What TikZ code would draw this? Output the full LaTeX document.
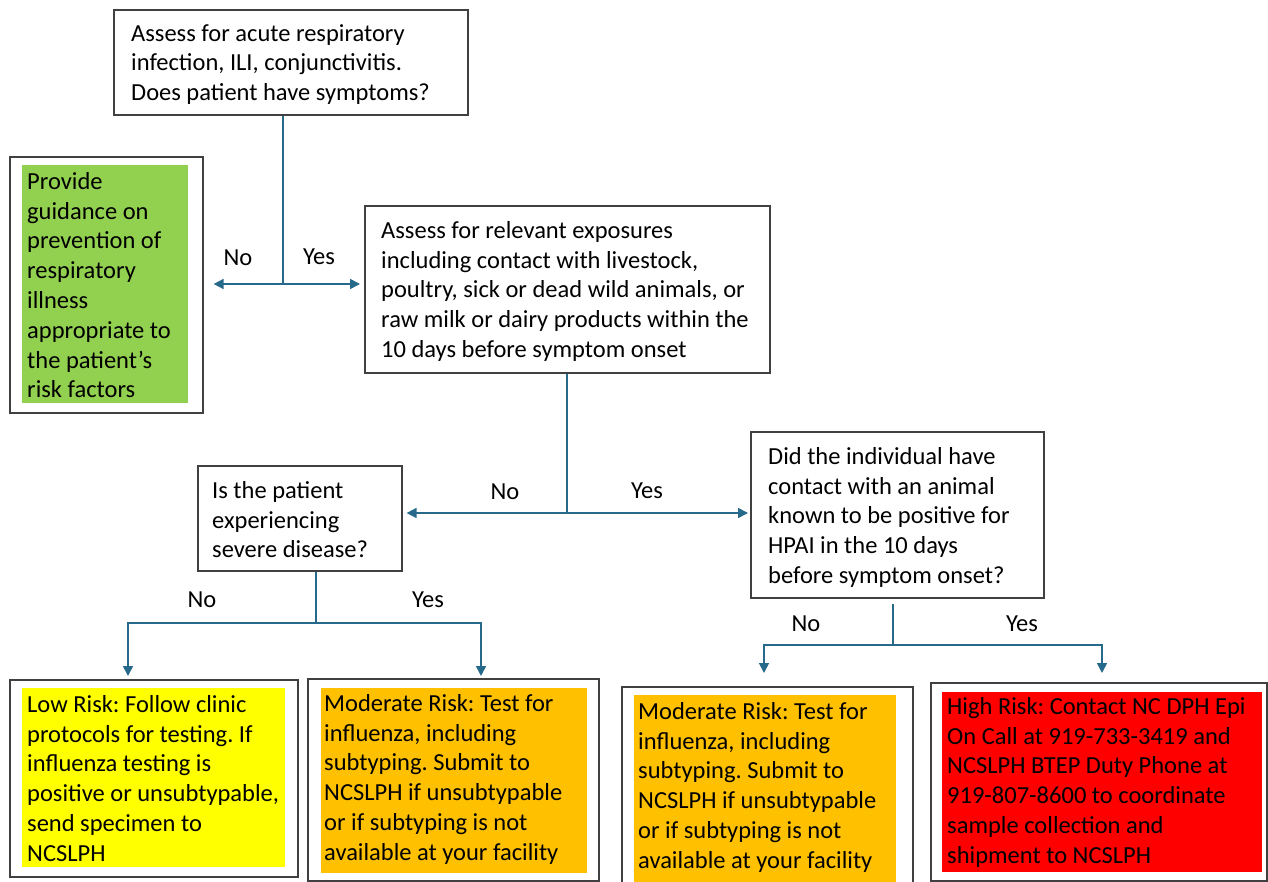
\documentclass[tikz,border=0pt]{standalone}
\usepackage{fontspec}
\setmainfont{Carlito}
\frenchspacing
\usepackage{tikz}
\usetikzlibrary{arrows.meta,calc,positioning}
\definecolor{grisBorde}{RGB}{64, 64, 64}
\definecolor{azulFlecha}{RGB}{38, 105, 138}
\definecolor{verdeGuia}{RGB}{146, 208, 80}
\definecolor{amarilloBajo}{RGB}{255, 255, 0}
\definecolor{naranjaMedio}{RGB}{255, 192, 0}
\definecolor{rojoAlto}{RGB}{255, 0, 0}
\tikzstyle{box}  =[draw=grisBorde, line width=1.6pt, inner sep=0pt,
                   anchor=north west]
\tikzstyle{cell} =[inner sep=0pt, anchor=north west]
\tikzstyle{txt}  =[inner sep=0pt, anchor=north west, align=left,
                   font=\fontsize{24.5}{29.8}\selectfont]
\tikzstyle{lbl}  =[inner sep=0pt, font=\fontsize{24.5}{28}\selectfont]
\tikzstyle{edge} =[azulFlecha, line width=1.6pt]
\tikzstyle{arr}  =[edge, -{Triangle[length=10pt,width=10pt]}]

\begin{document}
\begin{tikzpicture}[x=1pt,y=-1pt]
    \useasboundingbox (0,0) rectangle (1268,882);

    % boxes
    \node[box, minimum width=354pt, minimum height=105pt] (assess) at (113,9) {};
    \node[box, minimum width=193pt, minimum height=256pt] (guia) at (9,156) {};
    \node[box, minimum width=405pt, minimum height=167pt] (expo) at (364,205) {};
    \node[box, minimum width=204pt, minimum height=105pt] (sev) at (197,465) {};
    \node[box, minimum width=293pt, minimum height=166pt] (hpai) at (750,431) {};
    \node[box, minimum width=288pt, minimum height=197pt] (bajo) at (9,679) {};
    \node[box, minimum width=291pt, minimum height=202pt] (medioA) at (307,678) {};
    \node[box, minimum width=291pt, minimum height=210pt] (medioB) at (621,686) {};
    \node[box, minimum width=336pt, minimum height=198pt] (alto) at (930,682) {};

    % coloured cells
    \node[cell, fill=verdeGuia, minimum width=166pt, minimum height=238pt] (guiaFondo) at (22,165) {};
    \node[cell, fill=amarilloBajo, minimum width=263pt, minimum height=179pt] (bajoFondo) at (22,688) {};
    \node[cell, fill=naranjaMedio, minimum width=266pt, minimum height=185pt] (medioAFondo) at (321,688) {};
    \node[cell, fill=naranjaMedio, minimum width=262pt, minimum height=190pt] (medioBFondo) at (634,695) {};
    \node[cell, fill=rojoAlto, minimum width=320pt, minimum height=180pt] (altoFondo) at (942,692) {};

    % texts
    \node[txt] (assessTxt) at (131,24) {Assess for acute respiratory\\infection, ILI, conjunctivitis.\\Does patient have symptoms?};
    \node[txt] (guiaTxt) at (27,172) {Provide\\guidance on\\prevention of\\respiratory\\illness\\appropriate to\\the patient’s\\risk factors};
    \node[txt] (expoTxt) at (381,221) {Assess for relevant exposures\\including contact with livestock,\\poultry, sick or dead wild animals, or\\raw milk or dairy products within the\\10 days before symptom onset};
    \node[txt] (sevTxt) at (212,481) {Is the patient\\experiencing\\severe disease?};
    \node[txt] (hpaiTxt) at (768,447) {Did the individual have\\contact with an animal\\known to be positive for\\HPAI in the 10 days\\before symptom onset?};
    \node[txt] (bajoTxt) at (27,695) {Low Risk: Follow clinic\\protocols for testing. If\\influenza testing is\\positive or unsubtypable,\\send specimen to\\NCSLPH};
    \node[txt] (medioATxt) at (324,694) {Moderate Risk: Test for\\influenza, including\\subtyping. Submit to\\NCSLPH if unsubtypable\\or if subtyping is not\\available at your facility};
    \node[txt] (medioBTxt) at (638,702) {Moderate Risk: Test for\\influenza, including\\subtyping. Submit to\\NCSLPH if unsubtypable\\or if subtyping is not\\available at your facility};
    \node[txt] (altoTxt) at (947,697) {High Risk: Contact NC DPH Epi\\On Call at 919-733-3419 and\\NCSLPH BTEP Duty Phone at\\919-807-8600 to coordinate\\sample collection and\\shipment to NCSLPH};

    % labels
    \node[lbl] (no1) at (238,258) {No};
    \node[lbl] (si1) at (319,257) {Yes};
    \node[lbl] (no2) at (505,492) {No};
    \node[lbl] (si2) at (647,491) {Yes};
    \node[lbl] (no3) at (202,600) {No};
    \node[lbl] (si3) at (428,600) {Yes};
    \node[lbl] (no4) at (806,624) {No};
    \node[lbl] (si4) at (1022,624) {Yes};

    % junctions and arrow ends
    \coordinate (j1) at (283,284);
    \coordinate (j2) at (567,513);
    \coordinate (j3) at (316,623);
    \coordinate (j4) at (893,645);
    \coordinate (t6) at (128,676);
    \coordinate (t7) at (481,676);
    \coordinate (t8) at (764,673);
    \coordinate (t9) at (1102,673);

    % connectors
    \draw[edge] (assess.south -| j1) -- (j1);
    \draw[arr, shorten >=10pt] (j1) -- (guia.east |- j1);
    \draw[arr, shorten >=4pt] (j1) -- (expo.west |- j1);

    \draw[edge] (expo.south -| j2) -- (j2);
    \draw[arr, shorten >=4pt] (j2) -- (sev.east |- j2);
    \draw[arr, shorten >=2pt] (j2) -- (hpai.west |- j2);

    \draw[edge, line width=2.6pt] (sev.south -| j3) -- (j3);
    \draw[arr] (j3) -| (t6);
    \draw[arr] (j3) -| (t7);

    \draw[edge] ([yshift=-5pt]hpai.south -| j4) -- (j4);
    \draw[arr] (j4) -| (t8);
    \draw[arr] (j4) -| (t9);

\end{tikzpicture}
\end{document}
